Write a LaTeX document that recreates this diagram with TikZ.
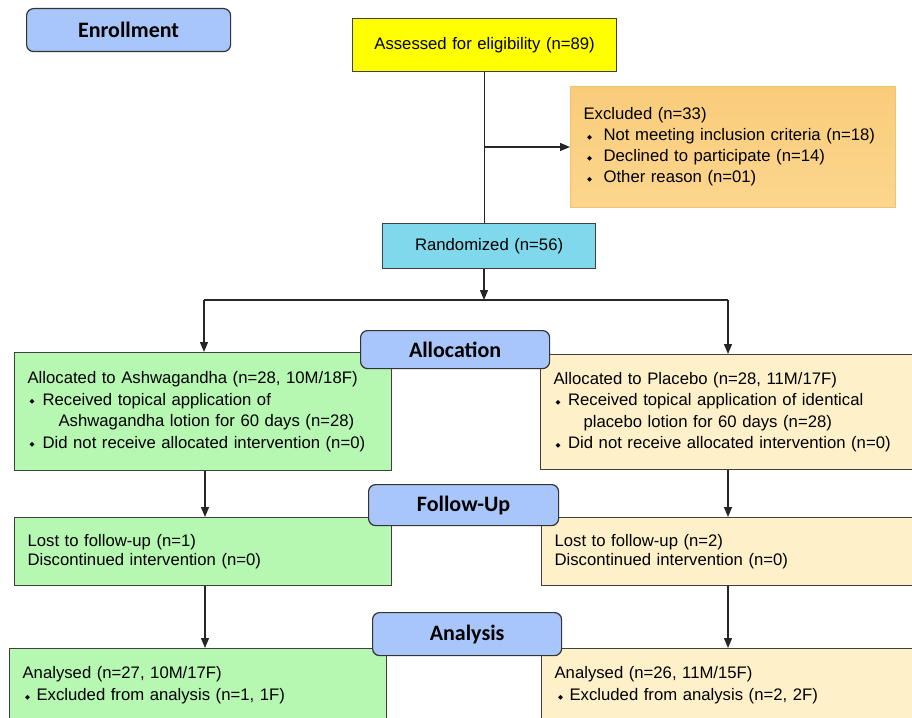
\documentclass[tikz,border=0pt]{standalone}
\usepackage{fontspec}
\setmainfont{Liberation Sans}
\newfontfamily\lblfont{Carlito}
\newfontfamily\djv{DejaVu Sans}
\usetikzlibrary{arrows.meta}
\definecolor{lblblue}{RGB}{168,198,250}
\definecolor{assessyel}{RGB}{255,255,0}
\definecolor{randcyan}{RGB}{128,216,236}
\definecolor{exctop}{RGB}{249,204,122}
\definecolor{excbot}{RGB}{252,214,142}
\definecolor{excborder}{RGB}{240,196,110}
\definecolor{grn}{RGB}{182,247,178}
\definecolor{beige}{RGB}{254,240,200}
\newcommand\bodyfont[1]{\fontsize{16.7pt}{#1}\selectfont}
\newcommand\bul{\raisebox{1.2pt}{\djv\fontsize{6.5pt}{6.5pt}\selectfont ◆}}
\newcommand\bl[2]{\makebox[#2][l]{\hspace*{#1}\bul}}
\begin{document}
\begin{tikzpicture}[x=1pt,y=-1pt,
  conn/.style={line width=1.3pt, draw=black!85},
  arr/.style={conn, -{Triangle[length=10pt,width=8pt]}},
  box/.style={draw=black!75, line width=1.2pt, rectangle, anchor=north west,
    inner xsep=13pt, inner ysep=0pt, align=left},
  lbl/.style={draw=black!80, line width=1.2pt, fill=lblblue, rounded corners=7pt,
    anchor=north west, inner sep=0pt,
    font=\lblfont\bfseries\fontsize{22pt}{22pt}\selectfont}]
\useasboundingbox (0,0) rectangle (912,717);

% top boxes
\node[box, fill=assessyel, text width=238pt, minimum height=53pt, align=center,
  font={\bodyfont{20pt}}] (assess) at (352,18) {Assessed for eligibility (n=89)};
\node[box, top color=exctop, bottom color=excbot, draw=excborder, text width=299pt,
  minimum height=121pt, font={\bodyfont{21pt}}] (excl) at (570,86)
  {Excluded (n=33)\\
   \bl{3.5pt}{20pt}Not meeting inclusion criteria (n=18)\\
   \bl{3.5pt}{20pt}Declined to participate (n=14)\\
   \bl{3.5pt}{20pt}Other reason (n=01)};
\node[box, fill=randcyan, text width=187pt, minimum height=45pt, align=center,
  font={\bodyfont{20pt}}] (rand) at (382,223) {Randomized (n=56)};

% allocation boxes
\node[box, fill=grn, text width=351pt, minimum height=118pt, font={\bodyfont{21.5pt}}]
  (allocL) at (14,352)
  {Allocated to Ashwagandha (n=28, 10M/18F)\\
   \bl{2pt}{15pt}Received topical application of\\
   \hspace*{31pt}Ashwagandha lotion for 60 days (n=28)\\
   \bl{2pt}{15pt}Did not receive allocated intervention (n=0)};
\node[box, fill=beige, text width=349pt, minimum height=115pt, font={\bodyfont{21.5pt}}]
  (allocR) at (540,354)
  {Allocated to Placebo (n=28, 11M/17F)\\
   \bl{2pt}{14.5pt}Received topical application of identical\\
   \hspace*{30pt}placebo lotion for 60 days (n=28)\\
   \bl{2pt}{14.5pt}Did not receive allocated intervention (n=0)};

% follow-up boxes
\node[box, fill=grn, text width=351pt, minimum height=68pt, font={\bodyfont{19pt}}]
  (fuL) at (14,517)
  {Lost to follow-up (n=1)\\ Discontinued intervention (n=0)};
\node[box, fill=beige, text width=348pt, minimum height=68pt, font={\bodyfont{19pt}}]
  (fuR) at (541,517)
  {Lost to follow-up (n=2)\\ Discontinued intervention (n=0)};

% analysis boxes
\node[box, fill=grn, text width=351pt, minimum height=73pt, font={\bodyfont{22pt}}]
  (anL) at (9,648)
  {Analysed (n=27, 10M/17F)\\ \bl{2.5pt}{14pt}Excluded from analysis (n=1, 1F)};
\node[box, fill=beige, text width=348pt, minimum height=73pt, font={\bodyfont{22pt}}]
  (anR) at (541,648)
  {Analysed (n=26, 11M/15F)\\ \bl{3.5pt}{15pt}Excluded from analysis (n=2, 2F)};

% connectors
\coordinate (trunk) at (484,147);
\coordinate (mid) at (484,300);
\coordinate (bl) at (204,300);
\coordinate (brr) at (728,300);
\coordinate (cl) at (205,0);
\coordinate (cr) at (728,0);
\draw[conn] (assess.south) -- (assess.south |- rand.north);
\draw[arr] (trunk) -- (trunk -| excl.west);
\draw[arr] (rand.south -| mid) -- (mid);
\draw[conn] (bl) -- (brr);
\draw[arr] (bl) -- (bl |- allocL.north);
\draw[arr] (brr) -- (brr |- allocR.north);
\draw[arr] (allocL.south -| cl) -- (fuL.north -| cl);
\draw[arr] (allocR.south -| cr) -- (fuR.north -| cr);
\draw[arr] (fuL.south -| cl) -- (anL.north -| cl);
\draw[arr] (fuR.south -| cr) -- (anR.north -| cr);

% stage labels
\node[lbl, minimum width=204pt, minimum height=43pt] (enr) at (26,8) {Enrollment};
\node[lbl, minimum width=189pt, minimum height=38pt] (alloc) at (360,330) {Allocation};
\node[lbl, minimum width=190pt, minimum height=41pt] (fu) at (368,484) {Follow-Up};
\node[lbl, minimum width=189pt, minimum height=43pt] (an) at (372,612) {Analysis};
\end{tikzpicture}
\end{document}
